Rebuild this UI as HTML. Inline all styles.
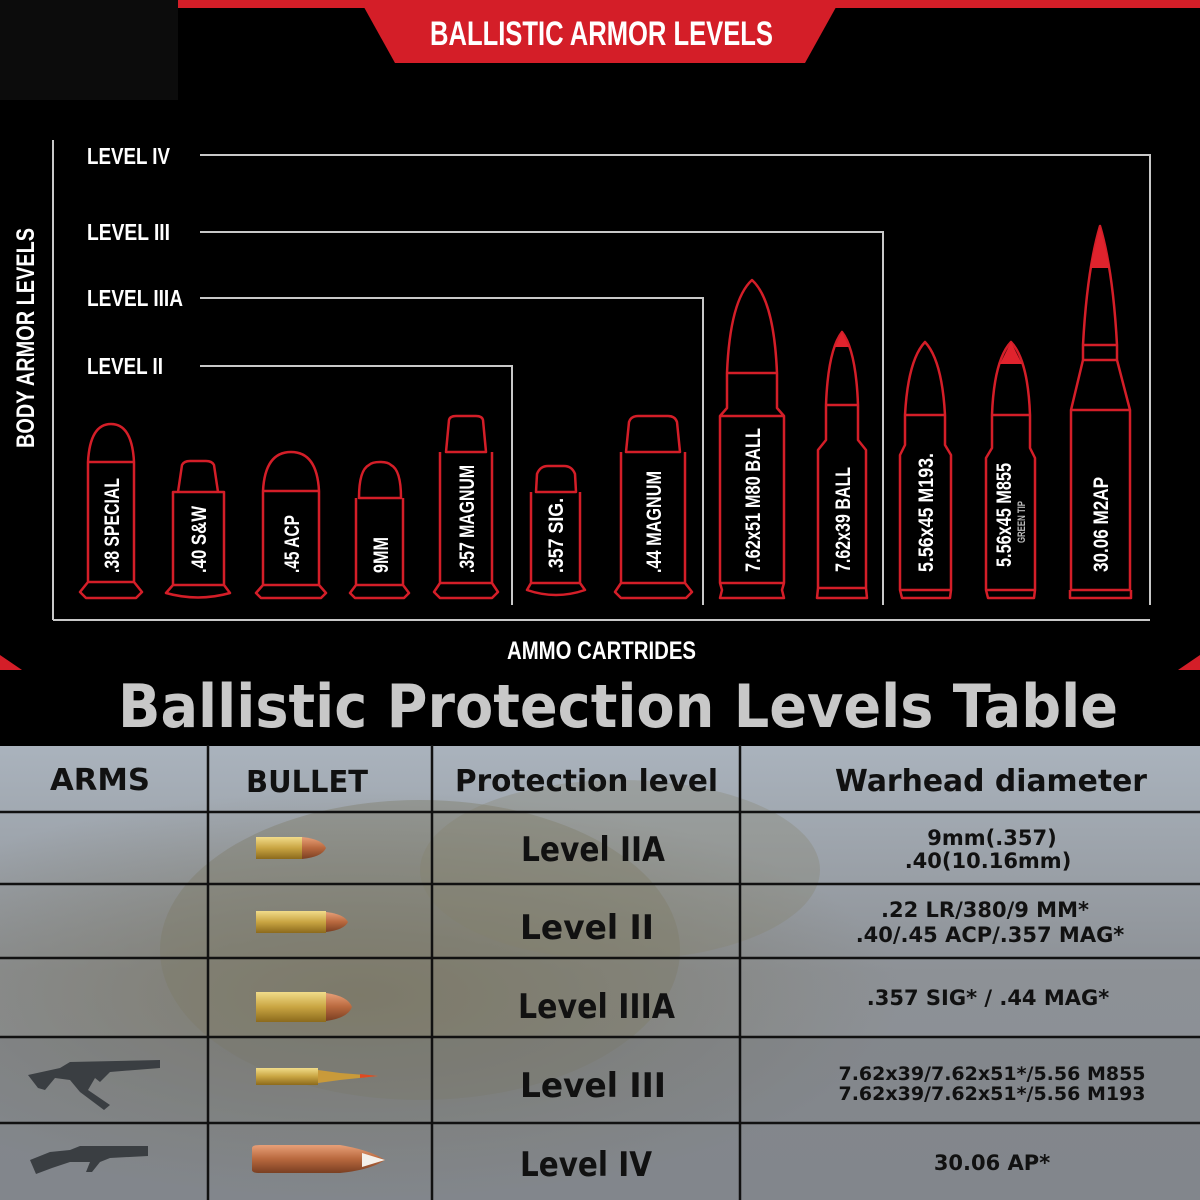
<!DOCTYPE html>
<html><head><meta charset="utf-8"><style>
html,body{margin:0;padding:0;background:#000;}
svg{display:block}
.c{font-family:"Liberation Sans Narrow","Liberation Sans",sans-serif;font-weight:bold;fill:#fff;}
.b{fill:none;stroke:#d41e28;stroke-width:2.5;stroke-linejoin:round}
.t{font-family:"DejaVu Sans","Liberation Sans",sans-serif;font-weight:bold;fill:#111;}
</style></head><body>
<svg width="1200" height="1200" viewBox="0 0 1200 1200" xmlns="http://www.w3.org/2000/svg">
<defs>
<linearGradient id="bg" x1="0" y1="0" x2="0" y2="1">
<stop offset="0" stop-color="#aab3bd"/><stop offset="0.5" stop-color="#8d9196"/><stop offset="1" stop-color="#8a8f95"/>
</linearGradient>
<radialGradient id="sol" cx="0.3" cy="0.55" r="0.45">
<stop offset="0" stop-color="#7d7a6c"/><stop offset="1" stop-color="#7d7a6c" stop-opacity="0"/>
</radialGradient>
<linearGradient id="brass" x1="0" y1="0" x2="0" y2="1"><stop offset="0" stop-color="#f1dc8a"/><stop offset="0.5" stop-color="#c9a542"/><stop offset="1" stop-color="#8c6a1c"/></linearGradient>
<linearGradient id="copper" x1="0" y1="0" x2="0" y2="1"><stop offset="0" stop-color="#e8a078"/><stop offset="0.5" stop-color="#b8683e"/><stop offset="1" stop-color="#7a3f22"/></linearGradient>
</defs>
<rect width="1200" height="745" fill="#000"/>
<rect x="0" y="0" width="178" height="100" fill="#0c0c0c"/>
<rect x="178" y="0" width="1022" height="8" fill="#d41e28"/>
<polygon points="360,0 840,0 805,63 395,63" fill="#d41e28"/>
<text x="430" y="45" class="c" font-size="34" textLength="343" lengthAdjust="spacingAndGlyphs">BALLISTIC ARMOR LEVELS</text>

<g stroke="#c8c8c8" stroke-width="2" fill="none">
<line x1="53" y1="140" x2="53" y2="620"/>
<line x1="53" y1="620" x2="1150" y2="620"/>
<polyline points="200,155 1150,155 1150,605"/>
<polyline points="200,232 883,232 883,605"/>
<polyline points="200,298 703,298 703,605"/>
<polyline points="200,366 512,366 512,605"/>
</g>
<g class="c" font-size="23">
<text x="87" y="164" textLength="83" lengthAdjust="spacingAndGlyphs">LEVEL IV</text>
<text x="87" y="240" textLength="83" lengthAdjust="spacingAndGlyphs">LEVEL III</text>
<text x="87" y="306" textLength="96" lengthAdjust="spacingAndGlyphs">LEVEL IIIA</text>
<text x="87" y="374" textLength="76" lengthAdjust="spacingAndGlyphs">LEVEL II</text>
</g>
<text class="c" font-size="25" transform="translate(34,448) rotate(-90)" textLength="220" lengthAdjust="spacingAndGlyphs">BODY ARMOR LEVELS</text>
<text class="c" font-size="25" x="507" y="659" textLength="189" lengthAdjust="spacingAndGlyphs">AMMO CARTRIDES</text>
<polygon points="0,655 22,670 0,670" fill="#d41e28"/>
<polygon points="1200,655 1178,670 1200,670" fill="#d41e28"/>

<g class="b">
<path d="M88,462 Q90,424 111,424 Q132,424 134,462 Z M88,462 V582 H134 V462 M88,582 L80,592 L86,598 H136 L142,592 L134,582"/>
<path d="M178,492 L182,465 Q184,461 190,461 H206 Q212,461 214,465 L218,492 Z M173,492 V585 H224 V492 Z M173,585 L166,593 Q198,602 230,593 L224,585"/>
<path d="M263,491 Q265,452 291,452 Q317,452 319,491 Z M263,491 V585 H319 V491 M263,585 L256,593 L261,598 H321 L326,593 L319,585"/>
<path d="M359,498 Q359,470 369,465 Q372,462 380,462 Q388,462 391,465 Q401,470 401,498 Z M356,498 V585 H403 V498 M356,585 L350,593 L355,598 H404 L409,593 L403,585"/>
<path d="M446,452 L449,420 Q450,416 456,416 H476 Q482,416 483,420 L486,452 Z M440,452 V583 H492 V452 M440,583 L434,592 L440,598 H492 L498,592 L492,583"/>
<path d="M536,492 L537,474 Q540,466 548,466 H564 Q572,466 575,474 L576,492 Z M531,492 V583 H580 V492 M531,583 L527,590 Q556,600 585,590 L580,583"/>
<path d="M626,452 L629,422 Q631,416 638,416 H668 Q675,416 677,422 L680,452 Z M621,452 V583 H685 V452 M621,583 L615,592 L621,598 H686 L692,592 L685,583"/>
</g>
<g class="b">
<path d="M727,373 Q730,300 752,280 Q774,300 777,373 Z M727,373 V408 L720,416 V583 H784 V416 L777,408 V373 M720,416 H784 M720,583 L722,590 L720,598 H784 L782,590 L784,583"/>
<path d="M826,405 Q828,350 842,332 Q856,350 858,405 Z M826,405 V440 L818,450 V588 H866 V450 L858,440 V405 M818,588 L817,598 H867 L866,588"/>
<path d="M905,415 Q908,360 925,342 Q942,360 945,415 Z M905,415 V445 L900,455 V590 H951 V455 L945,445 V415 M900,590 L902,598 H950 L951,590"/>
<path d="M992,415 Q994,360 1011,342 Q1028,360 1030,415 Z M992,415 V448 L986,458 V590 H1035 V458 L1030,448 V415 M986,590 L988,598 H1034 L1035,590"/>
<path d="M1083,345 Q1087,270 1100,226 Q1113,270 1117,345 Z M1083,345 V360 H1117 V345 M1083,360 L1071,410 V590 H1130 V410 L1117,360 M1071,410 H1130 M1070,590 V598 H1131 V590"/>
</g>
<g fill="#e0232d">
<polygon points="842,332 835,347 849,347"/>
<polygon points="1011,342 1000,364 1022,364"/>
<polygon points="1100,226 1090,268 1110,268"/>
</g>
<g class="c" font-size="21">
<text transform="translate(119,573) rotate(-90)" textLength="95" lengthAdjust="spacingAndGlyphs">.38 SPECIAL</text>
<text transform="translate(206,573) rotate(-90)" textLength="67" lengthAdjust="spacingAndGlyphs">.40 S&amp;W</text>
<text transform="translate(299,573) rotate(-90)" textLength="58" lengthAdjust="spacingAndGlyphs">.45 ACP</text>
<text transform="translate(388,573) rotate(-90)" textLength="36" lengthAdjust="spacingAndGlyphs">9MM</text>
<text transform="translate(474,573) rotate(-90)" textLength="108" lengthAdjust="spacingAndGlyphs">.357 MAGNUM</text>
<text transform="translate(563,573) rotate(-90)" textLength="75" lengthAdjust="spacingAndGlyphs">.357 SIG.</text>
<text transform="translate(661,573) rotate(-90)" textLength="102" lengthAdjust="spacingAndGlyphs">.44 MAGNUM</text>
<text transform="translate(760,572) rotate(-90)" textLength="144" lengthAdjust="spacingAndGlyphs">7.62x51 M80 BALL</text>
<text transform="translate(850,572) rotate(-90)" textLength="105" lengthAdjust="spacingAndGlyphs">7.62x39 BALL</text>
<text transform="translate(933,572) rotate(-90)" textLength="119" lengthAdjust="spacingAndGlyphs">5.56x45 M193.</text>
<text transform="translate(1011,567) rotate(-90)" textLength="104" lengthAdjust="spacingAndGlyphs">5.56x45 M855</text>
<text transform="translate(1108,572) rotate(-90)" textLength="95" lengthAdjust="spacingAndGlyphs">30.06 M2AP</text>
</g>
<text class="c" font-size="11" transform="translate(1025,543) rotate(-90)" style="fill:#bbb" textLength="42" lengthAdjust="spacingAndGlyphs">GREEN TIP</text>

<text x="118" y="727" font-family="'DejaVu Sans','Liberation Sans',sans-serif" font-weight="bold" font-size="60" fill="#c8c8c8" textLength="1000" lengthAdjust="spacingAndGlyphs">Ballistic Protection Levels Table</text>

<rect x="0" y="745" width="1200" height="455" fill="url(#bg)"/>
<rect x="0" y="745" width="1200" height="455" fill="url(#sol)"/>
<ellipse cx="420" cy="950" rx="260" ry="150" fill="#7e7a66" opacity="0.4"/>
<ellipse cx="620" cy="870" rx="200" ry="90" fill="#86806a" opacity="0.3"/>
<rect x="0" y="1037" width="1200" height="163" fill="#6f7377" opacity="0.3"/>
<rect x="0" y="741" width="1200" height="5" fill="#000"/>
<g stroke="#111" stroke-width="2.5">
<line x1="208" y1="745" x2="208" y2="1200"/>
<line x1="432" y1="745" x2="432" y2="1200"/>
<line x1="740" y1="745" x2="740" y2="1200"/>
<line x1="0" y1="812" x2="1200" y2="812"/>
<line x1="0" y1="884" x2="1200" y2="884"/>
<line x1="0" y1="958" x2="1200" y2="958"/>
<line x1="0" y1="1037" x2="1200" y2="1037"/>
<line x1="0" y1="1123" x2="1200" y2="1123"/>
</g>
<g class="t" font-size="30">
<text x="50" y="790" textLength="100" lengthAdjust="spacingAndGlyphs">ARMS</text>
<text x="246" y="792" textLength="122" lengthAdjust="spacingAndGlyphs">BULLET</text>
<text x="455" y="791" textLength="263" lengthAdjust="spacingAndGlyphs">Protection level</text>
<text x="835" y="791" textLength="312" lengthAdjust="spacingAndGlyphs">Warhead diameter</text>
</g>
<g class="t" font-size="34">
<text x="521" y="861" textLength="144" lengthAdjust="spacingAndGlyphs">Level IIA</text>
<text x="520" y="939" textLength="134" lengthAdjust="spacingAndGlyphs">Level II</text>
<text x="518" y="1018" textLength="157" lengthAdjust="spacingAndGlyphs">Level IIIA</text>
<text x="520" y="1097" textLength="146" lengthAdjust="spacingAndGlyphs">Level III</text>
<text x="520" y="1176" textLength="132" lengthAdjust="spacingAndGlyphs">Level IV</text>
</g>
<g class="t" font-size="21" text-anchor="middle">
<text x="992" y="845">9mm(.357)</text>
<text x="988" y="868">.40(10.16mm)</text>
<text x="985" y="917">.22 LR/380/9 MM*</text>
<text x="990" y="942">.40/.45 ACP/.357 MAG*</text>
<text x="988" y="1005">.357 SIG* / .44 MAG*</text>
<text x="992" y="1080" font-size="19">7.62x39/7.62x51*/5.56 M855</text>
<text x="992" y="1100" font-size="19">7.62x39/7.62x51*/5.56 M193</text>
<text x="992" y="1170">30.06 AP*</text>
</g>
<rect x="256" y="837" width="46" height="22" fill="url(#brass)"/>
<path d="M302,837 Q322,839 326,848 Q322,857 302,859 Z" fill="url(#copper)"/>
<rect x="256" y="911" width="70" height="22" fill="url(#brass)"/>
<path d="M326,912 Q344,914 348,922 Q344,930 326,932 Z" fill="url(#copper)"/>
<rect x="256" y="992" width="70" height="30" fill="url(#brass)"/>
<path d="M326,993 Q348,996 352,1007 Q348,1018 326,1021 Z" fill="url(#copper)"/>
<rect x="256" y="1068" width="62" height="17" fill="url(#brass)"/>
<path d="M318,1070 L340,1073 L378,1076 L340,1080 L318,1083 Z" fill="#c99a3a"/>
<path d="M360,1074 L378,1076 L360,1078 Z" fill="#e04a20"/>
<path d="M252,1148 Q252,1145 260,1145 L340,1145 Q370,1150 385,1160 Q370,1170 340,1173 L260,1173 Q252,1173 252,1170 Z" fill="url(#copper)"/>
<path d="M362,1153 L385,1160 L362,1167 Z" fill="#f4f0ea"/>
<g fill="#3a3e42">
<path d="M28,1075 L60,1068 L70,1062 L160,1060 L160,1068 L110,1072 L100,1082 L95,1078 L88,1090 L110,1105 L104,1110 L80,1092 L70,1080 L55,1078 L45,1090 L38,1088 Z"/>
<path d="M30,1160 L50,1152 L70,1150 L80,1146 L148,1146 L148,1156 L110,1158 L100,1162 L92,1172 L86,1172 L90,1162 L70,1162 L52,1168 L36,1174 Z"/>
</g>
</svg>
</body></html>
